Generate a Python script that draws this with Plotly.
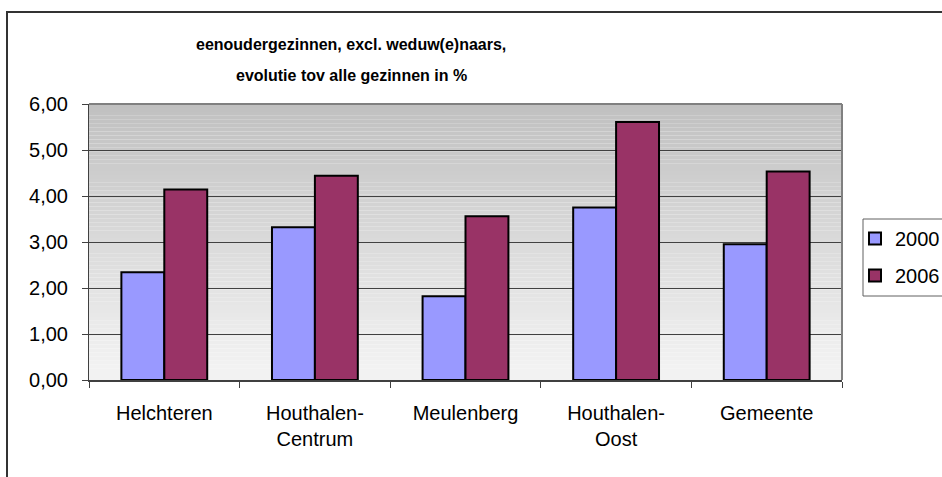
import plotly.graph_objects as go

categories = ["Helchteren", "Houthalen-<br>Centrum", "Meulenberg", "Houthalen-<br>Oost", "Gemeente"]
values_2000 = [2.34, 3.32, 1.82, 3.75, 2.95]
values_2006 = [4.14, 4.44, 3.56, 5.61, 4.53]
y_ticks = [0, 1, 2, 3, 4, 5, 6]
y_tick_labels = ["0,00", "1,00", "2,00", "3,00", "4,00", "5,00", "6,00"]

W, H = 942, 477
PL, PR, PT, PB = 89, 842, 104, 380  # plot area in window pixels
L, R, T, B = PL, W - PR, PT, H - PB
pw, ph = PR - PL, PB - PT

def px_x(px):
    return (px - PL) / pw

def px_y(py):
    return (PB - py) / ph

font_family = "Liberation Sans, Arial, sans-serif"

fig = go.Figure()
fig.add_trace(go.Bar(
    name="2000", x=categories, y=values_2000,
    marker=dict(color="#9999FF", line=dict(color="#000000", width=2)),
    legendgroup="a",
))
fig.add_trace(go.Bar(
    name="2006", x=categories, y=values_2006,
    marker=dict(color="#993366", line=dict(color="#000000", width=2)),
    legendgroup="b",
))

# gradient plot background (strips)
shapes = []
n = 70
top_c, bot_c = 192, 242
for i in range(n):
    f0 = i / n
    f1 = (i + 1) / n
    t = (f0 + f1) / 2
    c = int(round(top_c + (bot_c - top_c) * min(1.0, t * 1.05)))
    shapes.append(dict(
        type="rect", xref="paper", yref="paper",
        x0=0, x1=1, y0=1 - f1, y1=1 - f0,
        fillcolor=f"rgb({c},{c},{c})", line=dict(width=0), layer="below",
    ))
# plot area border (top / right)
shapes.append(dict(type="line", xref="paper", yref="paper", x0=0, x1=1, y0=1, y1=1,
                   line=dict(color="#808080", width=2)))
shapes.append(dict(type="line", xref="paper", yref="paper", x0=1, x1=1, y0=0, y1=1,
                   line=dict(color="#808080", width=2)))
# outer chart border (left and top; right/bottom fall outside the window)
shapes.append(dict(type="line", xref="paper", yref="paper",
                   x0=px_x(7), x1=px_x(7), y0=px_y(490), y1=px_y(12),
                   line=dict(color="#333333", width=2)))
shapes.append(dict(type="line", xref="paper", yref="paper",
                   x0=px_x(6), x1=px_x(960), y0=px_y(12), y1=px_y(12),
                   line=dict(color="#333333", width=2)))
# legend frame (left, top, bottom)
shapes.append(dict(type="line", xref="paper", yref="paper",
                   x0=px_x(863), x1=px_x(863), y0=px_y(296), y1=px_y(219),
                   line=dict(color="#606060", width=1)))
shapes.append(dict(type="line", xref="paper", yref="paper",
                   x0=px_x(863), x1=px_x(960), y0=px_y(219), y1=px_y(219),
                   line=dict(color="#606060", width=1)))
shapes.append(dict(type="line", xref="paper", yref="paper",
                   x0=px_x(863), x1=px_x(960), y0=px_y(296), y1=px_y(296),
                   line=dict(color="#606060", width=1)))

fig.update_layout(
    width=W, height=H,
    margin=dict(l=L, r=R, t=T, b=B, autoexpand=False),
    paper_bgcolor="#FFFFFF",
    plot_bgcolor="rgba(0,0,0,0)",
    font=dict(family=font_family, color="#000000", size=20),
    barmode="group",
    bargap=0.43,
    bargroupgap=0,
    shapes=shapes,
    showlegend=True,
    legend=dict(
        x=px_x(855), y=px_y(219), xanchor="left", yanchor="top",
        borderwidth=0, bgcolor="rgba(255,255,255,0)",
        font=dict(size=20, family=font_family),
        traceorder="grouped", tracegroupgap=8, itemwidth=30,
    ),
    annotations=[
        dict(text="<b>eenoudergezinnen, excl. weduw(e)naars,</b>", xref="paper", yref="paper",
             x=px_x(351), y=px_y(45), showarrow=False, xanchor="center", yanchor="middle",
             font=dict(size=16, family=font_family)),
        dict(text="<b>evolutie tov alle gezinnen in %</b>", xref="paper", yref="paper",
             x=px_x(351), y=px_y(75), showarrow=False, xanchor="center", yanchor="middle",
             font=dict(size=16, family=font_family)),
    ],
    xaxis=dict(
        type="category", tickson="boundaries", ticks="outside", ticklen=6,
        tickcolor="#404040", showline=True, linecolor="#404040", linewidth=2,
        showgrid=False, tickfont=dict(size=20), ticklabelstandoff=14,
    ),
    yaxis=dict(
        range=[0, 6], tickvals=y_ticks, ticktext=y_tick_labels,
        ticks="outside", ticklen=6, tickcolor="#404040",
        showline=True, linecolor="#404040", linewidth=1,
        showgrid=True, gridcolor="#404040", gridwidth=1, zeroline=False,
        tickfont=dict(size=20), ticklabelstandoff=10,
    ),
)

fig.write_html(
    "out.html",
    config={"displayModeBar": False},
    post_script="document.body.style.margin='0';document.body.style.overflow='hidden';",
)
